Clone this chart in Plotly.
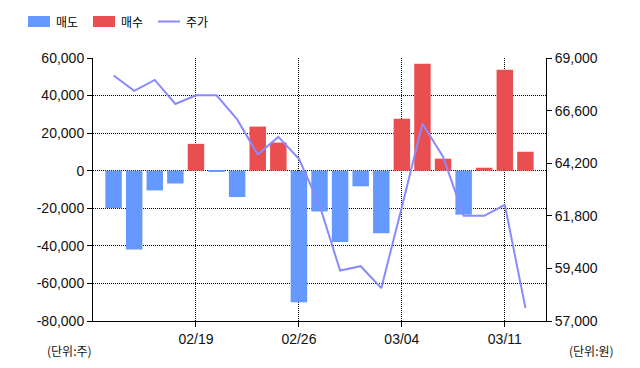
import plotly.graph_objects as go

dates = ["02/13", "02/14", "02/15", "02/16", "02/19", "02/20", "02/21", "02/22", "02/23",
         "02/26", "02/27", "02/28", "02/29", "03/01", "03/04", "03/05", "03/06", "03/07",
         "03/08", "03/11", "03/12"]
sell = [-19900, -42000, -10500, -6800, None, -500, -14000, None, None,
        -70000, -21700, -38000, -8300, -33300, None, None, None, -23400,
        None, None, None]
buy = [None, None, None, None, 14300, None, None, 23500, 15000,
       None, None, None, None, None, 27700, 57000, 6400, None,
       1600, 53800, 10100]
price = [68200, 67500, 68000, 66900, 67300, 67300, 66200, 64600, 65400,
         64400, 62300, 59300, 59500, 58500, 62200, 66000, 64500, 61800,
         61800, 62300, 57600]

x_ticks = ["02/19", "02/26", "03/04", "03/11"]
left_vals = [60000, 40000, 20000, 0, -20000, -40000, -60000, -80000]
left_text = ["60,000", "40,000", "20,000", "0", "-20,000", "-40,000", "-60,000", "-80,000"]
right_vals = [57000, 59400, 61800, 64200, 66600, 69000]
right_text = ["57,000", "59,400", "61,800", "64,200", "66,600", "69,000"]

SELL_C = "#6699ff"
BUY_C = "#e94f50"
LINE_C = "#8a8aff"
FONT = "Liberation Sans"
KFONT = "Noto Sans CJK KR"

# page body has an 8px margin, so the figure is drawn 8px in from the page corner
OFF = 8
PAGE_W, PAGE_H = 640, 368
W, H = PAGE_W - OFF, PAGE_H - OFF
# plot area in page pixels
PL, PR, PT, PB = 93, 546, 58, 321
ML, MT = PL - OFF, PT - OFF
MR, MB = W - (PR - OFF), H - (PB - OFF)
PW, PH = PR - PL, PB - PT


def px(xp):
    return (xp - PL) / PW


def py(yp):
    return (PB - yp) / PH


fig = go.Figure()
fig.add_trace(go.Bar(x=dates, y=sell, name="매도", marker=dict(color=SELL_C, line=dict(width=0)),
                     width=0.8, showlegend=False))
fig.add_trace(go.Bar(x=dates, y=buy, name="매수", marker=dict(color=BUY_C, line=dict(width=0)),
                     width=0.8, showlegend=False))
fig.add_trace(go.Scatter(x=dates, y=price, name="주가", yaxis="y2", mode="lines",
                         line=dict(color=LINE_C, width=2), showlegend=False))

fig.update_layout(
    width=W, height=H,
    margin=dict(l=ML, r=MR, t=MT, b=MB, autoexpand=False),
    paper_bgcolor="white", plot_bgcolor="white",
    barmode="relative",
    font=dict(family=FONT, size=14, color="#111"),
    showlegend=False,
    xaxis=dict(type="category", categoryorder="array", categoryarray=dates,
               range=[-1, len(dates)], tickvals=x_ticks, ticktext=x_ticks,
               showgrid=True, gridcolor="#000", griddash="1px,1px", gridwidth=1,
               showline=True, linecolor="#000", linewidth=1,
               ticks="outside", ticklen=5, tickcolor="#000",
               tickfont=dict(family=FONT, size=14, color="#111"), zeroline=False),
    yaxis=dict(range=[-80000, 60000], tickvals=left_vals, ticktext=left_text,
               showgrid=True, gridcolor="#000", griddash="1px,1px", gridwidth=1,
               showline=True, linecolor="#000", linewidth=1,
               ticks="outside", ticklen=5, tickcolor="#000", zeroline=False,
               tickfont=dict(family=FONT, size=14, color="#111")),
    yaxis2=dict(range=[57000, 69000], tickvals=right_vals, ticktext=right_text,
                overlaying="y", side="right", showgrid=False,
                showline=True, linecolor="#000", linewidth=1,
                ticks="outside", ticklen=5, tickcolor="#000", zeroline=False,
                tickfont=dict(family=FONT, size=14, color="#111")),
)

# custom legend
legend_items = [("rect", SELL_C, "매도", 28), ("rect", BUY_C, "매수", 93), ("line", LINE_C, "주가", 158)]
for kind, color, label, x0 in legend_items:
    if kind == "rect":
        fig.add_shape(type="rect", xref="paper", yref="paper",
                      x0=px(x0), x1=px(x0 + 22), y0=py(27), y1=py(16),
                      fillcolor=color, line=dict(width=0))
    else:
        fig.add_shape(type="line", xref="paper", yref="paper",
                      x0=px(x0), x1=px(x0 + 22), y0=py(21.5), y1=py(21.5),
                      line=dict(color=color, width=2))
    fig.add_annotation(text=label, xref="paper", yref="paper", x=px(x0 + 26), y=py(21.5),
                       xanchor="left", yanchor="middle", showarrow=False,
                       font=dict(family=KFONT, size=12, color="#000"))

fig.add_annotation(text="(단위:주)", xref="paper", yref="paper", x=px(45), y=py(350),
                   xanchor="left", yanchor="middle", showarrow=False,
                   font=dict(family=KFONT, size=12, color="#111"))
fig.add_annotation(text="(단위:원)", xref="paper", yref="paper", x=px(567), y=py(350),
                   xanchor="left", yanchor="middle", showarrow=False,
                   font=dict(family=KFONT, size=12, color="#111"))

fig.write_html("out.html")
